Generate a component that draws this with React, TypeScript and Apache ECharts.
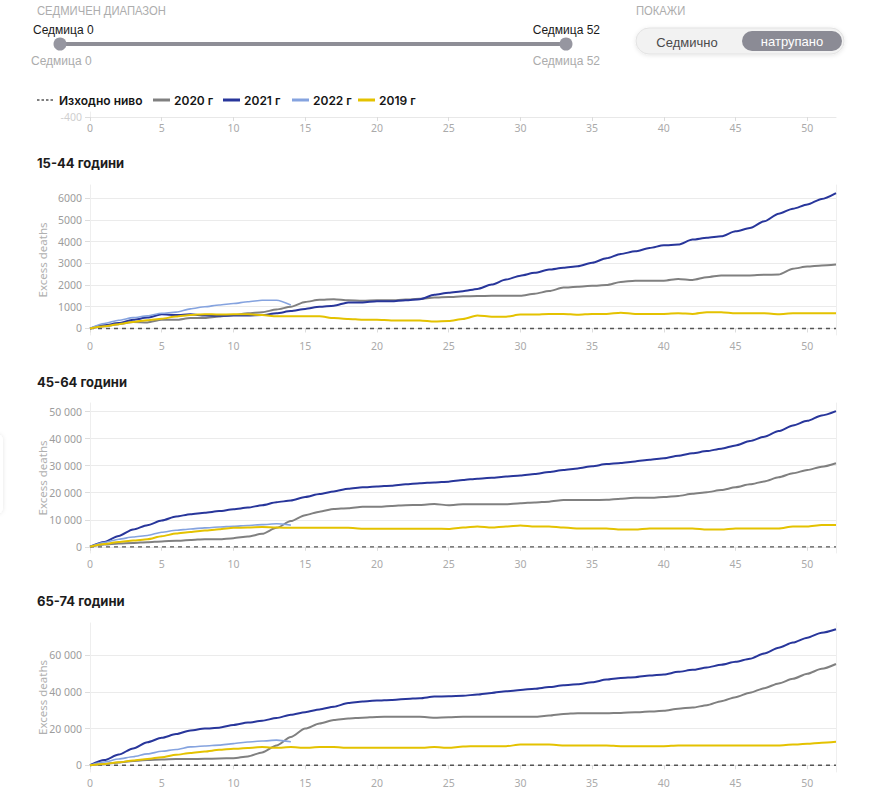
import React, { useEffect, useRef } from "react";
import * as echarts from "echarts";

// Week index along the x axis (0–52) and the weeks that carry a label
const WEEKS = [
  0, 1, 2, 3, 4, 5, 6, 7, 8, 9, 10, 11, 12, 13, 14, 15, 16, 17, 18, 19, 20, 21, 22, 23, 24, 25, 26,
  27, 28, 29, 30, 31, 32, 33, 34, 35, 36, 37, 38, 39, 40, 41, 42, 43, 44, 45, 46, 47, 48, 49, 50, 51, 52,
];
const WEEK_TICKS = [0, 5, 10, 15, 20, 25, 30, 35, 40, 45, 50];

const LEGEND_NAMES = ["Изходно ниво", "2020 г", "2021 г", "2022 г", "2019 г"];
const GROUP_TITLES = ["15-44 години", "45-64 години", "65-74 години"];
const Y_NAME = "Excess deaths";

// Cumulative excess deaths, 15-44
const Y2020_15_44 = [
  0, 100, 200, 300, 280, 400, 400, 480, 480, 550, 620, 700, 750, 870, 1000, 1220, 1320, 1350, 1300, 1280,
  1300, 1300, 1330, 1370, 1420, 1450, 1480, 1490, 1500, 1500, 1500, 1600, 1720, 1880, 1920, 1960, 2000,
  2140, 2200, 2200, 2200, 2280, 2230, 2360, 2440, 2440, 2440, 2470, 2480, 2750, 2850, 2900, 2940,
];
const Y2021_15_44 = [
  0, 150, 250, 400, 500, 650, 620, 650, 600, 580, 600, 600, 620, 700, 800, 900, 1000, 1050, 1200, 1200,
  1250, 1250, 1300, 1350, 1550, 1640, 1715, 1820, 2020, 2250, 2430, 2560, 2710, 2790, 2860, 3020, 3230,
  3430, 3550, 3700, 3830, 3860, 4090, 4170, 4240, 4470, 4620, 4930, 5280, 5510, 5700, 5960, 6230,
];
const Y2022_15_44 = [0, 230, 380, 500, 580, 700, 750, 900, 1000, 1080, 1150, 1230, 1300, 1300, 1080];
const Y2019_15_44 = [
  0, 100, 200, 300, 380, 450, 550, 620, 660, 640, 650, 650, 620, 560, 560, 560, 560, 480, 440, 400, 400,
  370, 370, 370, 320, 340, 440, 600, 540, 540, 640, 640, 670, 670, 630, 670, 670, 720, 670, 670, 670, 700,
  670, 750, 750, 700, 700, 700, 660, 700, 700, 700, 700,
];

// Cumulative excess deaths, 45-64
const Y2020_45_64 = [
  0, 800, 1200, 1400, 1700, 2000, 2200, 2500, 2800, 2800, 3200, 3800, 4800, 7000, 9500, 11700, 13000,
  14000, 14300, 14800, 14800, 15100, 15400, 15500, 15800, 15400, 15700, 15700, 15700, 15700, 16100,
  16400, 16700, 17300, 17300, 17300, 17400, 17800, 18100, 18100, 18400, 18800, 19600, 20200, 21000,
  22000, 23100, 24200, 25700, 27200, 28400, 29600, 30900,
];
const Y2021_45_64 = [
  0, 1800, 4000, 6400, 8000, 9700, 11200, 12050, 12600, 13200, 13900, 14500, 15400, 16500, 17100, 18400,
  19500, 20500, 21500, 22000, 22300, 22600, 23100, 23500, 23800, 24100, 24700, 25200, 25500, 26000,
  26400, 26900, 27700, 28400, 29000, 29800, 30600, 31000, 31600, 32200, 32800, 33700, 34600, 35400,
  36300, 37500, 39100, 40700, 42800, 44900, 46600, 48600, 50200,
];
const Y2022_45_64 = [0, 1600, 2800, 3600, 4200, 5400, 6100, 6600, 7000, 7300, 7600, 7900, 8200, 8500, 8000];
const Y2019_45_64 = [
  0, 1000, 1800, 2300, 2800, 3900, 4900, 5500, 6000, 6500, 7000, 7100, 7300, 7100, 7000, 7000, 7000,
  7000, 7000, 6700, 6700, 6700, 6700, 6700, 6700, 6600, 7100, 7500, 7100, 7500, 7900, 7500, 7500, 7100,
  6800, 6800, 6800, 6400, 6400, 6800, 6800, 6800, 6800, 6400, 6400, 6800, 6800, 6800, 6800, 7500, 7500,
  8100, 8100,
];

// Cumulative excess deaths, 65-74
const Y2020_65_74 = [
  0, 600, 1500, 2300, 2800, 3100, 3400, 3400, 3500, 3700, 3800, 4800, 7000, 10800, 15400, 20000, 22800,
  24700, 25500, 26000, 26400, 26500, 26500, 26500, 26000, 26200, 26500, 26500, 26500, 26500, 26500,
  26500, 27100, 28000, 28400, 28400, 28400, 28600, 28900, 29300, 29800, 30900, 31500, 32800, 35000,
  37200, 39600, 42100, 44700, 47200, 50000, 52700, 55300,
];
const Y2021_65_74 = [
  0, 2800, 5800, 9200, 12600, 15000, 17000, 19000, 20000, 20500, 22000, 23300, 24300, 25800, 27600,
  29000, 30500, 32000, 34000, 34800, 35300, 35700, 36200, 36600, 37500, 37700, 38000, 38600, 39500,
  40400, 41100, 41800, 42700, 43700, 44200, 45300, 46800, 47700, 48100, 49000, 49600, 51000, 52100,
  53400, 54900, 56500, 58200, 61100, 64200, 67000, 69700, 72400, 74300,
];
const Y2022_65_74 = [0, 1800, 3400, 4600, 6200, 7600, 8600, 10000, 10500, 11000, 11800, 12700, 13200, 13700, 12800];
const Y2019_65_74 = [
  0, 700, 1600, 2600, 3400, 4400, 5700, 6700, 7500, 8400, 9000, 9400, 9900, 9500, 9900, 9500, 10000, 9900,
  9500, 9500, 9500, 9500, 9500, 9500, 9900, 9500, 10200, 10400, 10400, 10400, 11300, 11300, 11300, 10800,
  10800, 10800, 10800, 10400, 10400, 10400, 10400, 10800, 10800, 10800, 10800, 10800, 10800, 10800,
  10800, 11300, 11700, 12300, 12800,
];

// y-axis ranges and labelled ticks for each panel
const Y_RANGE_15_44 = [-300, 6600];
const Y_TICKS_15_44 = [0, 1000, 2000, 3000, 4000, 5000, 6000];
const Y_RANGE_45_64 = [-2300, 53200];
const Y_TICKS_45_64 = [0, 10000, 20000, 30000, 40000, 50000];
const Y_RANGE_65_74 = [-3700, 77700];
const Y_TICKS_65_74 = [0, 20000, 40000, 60000];
// the bottom of the panel scrolled up under the sticky header
const Y_RANGE_TOP = [-400, -250];
const Y_TICKS_TOP = [-400];

const COLOR_BASE = "#555555";
const COLOR_2020 = "#808080";
const COLOR_2021 = "#28369b";
const COLOR_2022 = "#85a3df";
const COLOR_2019 = "#e4c200";

const UI_FONT = "'Liberation Sans', Arial, sans-serif";
const CHART_FONT = "Inter, 'Noto Sans', sans-serif";
const AXIS_FONT = "'Noto Sans', Inter, sans-serif";

const fmt = (v: number) =>
  Math.abs(v) >= 10000 ? String(v).replace(/\B(?=(\d{3})+(?!\d))/g, " ") : String(v);

const pairs = (vals: number[]) => vals.map((v, i) => [WEEKS[i], v]);

export default function App() {
  const ref = useRef<HTMLDivElement>(null);

  useEffect(() => {
    if (!ref.current) return;
    const chart = echarts.init(ref.current, undefined, { renderer: "svg" });

    const grids = [
      { left: 90, right: 51, top: 112, height: 5 },
      { left: 90, right: 51, top: 185, height: 150 },
      { left: 90, right: 51, top: 403, height: 150 },
      { left: 90, right: 51, top: 623, height: 149 },
    ];
    const ranges = [Y_RANGE_TOP, Y_RANGE_15_44, Y_RANGE_45_64, Y_RANGE_65_74];
    const ticks = [Y_TICKS_TOP, Y_TICKS_15_44, Y_TICKS_45_64, Y_TICKS_65_74];
    const panels = [
      [Y2020_15_44, Y2021_15_44, Y2022_15_44, Y2019_15_44],
      [Y2020_45_64, Y2021_45_64, Y2022_45_64, Y2019_45_64],
      [Y2020_65_74, Y2021_65_74, Y2022_65_74, Y2019_65_74],
    ];
    const yearColors = [COLOR_2020, COLOR_2021, COLOR_2022, COLOR_2019];
    const yearWidths = [2, 2, 1.6, 2];

    const xAxis = grids.map((_, i) => ({
      type: "value",
      gridIndex: i,
      min: 0,
      max: 52,
      axisLine: { show: true, lineStyle: { color: "#e8e8e8", width: 1 } },
      axisTick: { show: true, length: 4, customValues: WEEK_TICKS, lineStyle: { color: "#dcdcdc" } },
      axisLabel: {
        customValues: WEEK_TICKS,
        color: "#aaaaaa",
        fontSize: 10.5,
        fontFamily: AXIS_FONT,
        margin: 5,
      },
      splitLine: { show: false },
    }));

    const yAxis: any[] = [];
    grids.forEach((_, i) => {
      yAxis.push({
        type: "value",
        gridIndex: i,
        min: ranges[i][0],
        max: ranges[i][1],
        position: "left",
        axisLine: { show: true, lineStyle: { color: "#eeeeee" } },
        axisTick: { show: true, length: 5, customValues: ticks[i], lineStyle: { color: "#dddddd" } },
        axisLabel: {
          customValues: ticks[i],
          formatter: fmt,
          color: i === 0 ? "#cfcfcf" : "#9c9c9c",
          fontSize: 10.5,
          fontFamily: AXIS_FONT,
          margin: 8,
        },
        splitLine: { show: i !== 0, lineStyle: { color: "#ebebeb", width: 1 } },
      });
      if (i > 0) {
        yAxis.push({
          type: "value",
          gridIndex: i,
          min: ranges[i][0],
          max: ranges[i][1],
          position: "right",
          axisLine: { show: true, lineStyle: { color: "#efefef" } },
          axisTick: { show: false },
          axisLabel: { show: false },
          splitLine: { show: false },
        });
      }
    });

    // left y axis index of each grid: 0 for the header strip, then 1,3,5
    const leftAxisIndex = [0, 1, 3, 5];

    const series: any[] = [];
    panels.forEach((vals, p) => {
      const g = p + 1;
      series.push({
        type: "line",
        name: LEGEND_NAMES[0],
        xAxisIndex: g,
        yAxisIndex: leftAxisIndex[g],
        data: WEEKS.map((w) => [w, 0]),
        symbol: "none",
        lineStyle: { color: COLOR_BASE, width: 1.3, type: [4, 4] },
        itemStyle: { color: COLOR_BASE },
        z: 2,
      });
      vals.forEach((v, k) => {
        series.push({
          type: "line",
          name: LEGEND_NAMES[k + 1],
          xAxisIndex: g,
          yAxisIndex: leftAxisIndex[g],
          data: pairs(v),
          symbol: "none",
          smooth: 0.25,
          smoothMonotone: "x",
          lineStyle: { color: yearColors[k], width: yearWidths[k] },
          itemStyle: { color: yearColors[k] },
          z: 3,
        });
      });
    });

    const titleY = [163, 382, 601];

    const headerText = (text: string, x: number) => ({
      type: "text",
      x,
      y: 11,
      scaleX: 0.9,
      style: {
        text,
        fill: "#adadad",
        fontSize: 12.5,
        fontFamily: UI_FONT,
        verticalAlign: "middle",
      },
    });

    const graphic: any[] = [
      // week range slider
      headerText("СЕДМИЧЕН ДИАПАЗОН", 37),
      {
        type: "text",
        x: 33,
        y: 30,
        style: { text: "Седмица 0", fill: "#1a1a1a", fontSize: 12, fontFamily: UI_FONT, verticalAlign: "middle" },
      },
      {
        type: "text",
        x: 600,
        y: 30,
        style: {
          text: "Седмица 52",
          fill: "#1a1a1a",
          fontSize: 12,
          fontFamily: UI_FONT,
          align: "right",
          verticalAlign: "middle",
        },
      },
      {
        type: "line",
        shape: { x1: 60, y1: 44, x2: 566, y2: 44 },
        style: { stroke: "#8e8e96", lineWidth: 4, lineCap: "round" },
      },
      { type: "circle", shape: { cx: 60, cy: 44, r: 6.5 }, style: { fill: "#9696a0" } },
      { type: "circle", shape: { cx: 566, cy: 44, r: 6.5 }, style: { fill: "#9696a0" } },
      {
        type: "text",
        x: 31,
        y: 61,
        style: { text: "Седмица 0", fill: "#acacac", fontSize: 12, fontFamily: UI_FONT, verticalAlign: "middle" },
      },
      {
        type: "text",
        x: 600,
        y: 61,
        style: {
          text: "Седмица 52",
          fill: "#acacac",
          fontSize: 12,
          fontFamily: UI_FONT,
          align: "right",
          verticalAlign: "middle",
        },
      },
      // weekly / cumulative toggle
      headerText("ПОКАЖИ", 636),
      {
        type: "rect",
        shape: { x: 636, y: 28, width: 208, height: 26, r: 13 },
        style: {
          fill: "#f2f2f2",
          stroke: "#e3e3e3",
          lineWidth: 1,
          shadowBlur: 4,
          shadowColor: "rgba(0,0,0,0.10)",
          shadowOffsetY: 1,
        },
      },
      {
        type: "rect",
        shape: { x: 742, y: 31, width: 100, height: 20, r: 10 },
        style: { fill: "#8b8b95" },
      },
      {
        type: "text",
        x: 687,
        y: 42,
        style: {
          text: "Седмично",
          fill: "#4a4a4a",
          fontSize: 13,
          fontFamily: UI_FONT,
          align: "center",
          verticalAlign: "middle",
        },
      },
      {
        type: "text",
        x: 792,
        y: 41,
        style: {
          text: "натрупано",
          fill: "#ffffff",
          fontSize: 13,
          fontFamily: UI_FONT,
          align: "center",
          verticalAlign: "middle",
        },
      },
      // edge of a side tab peeking in at the left
      {
        type: "rect",
        shape: { x: -20, y: 434, width: 23, height: 80, r: 6 },
        style: { fill: "#ffffff", shadowBlur: 4, shadowColor: "rgba(0,0,0,0.10)" },
      },
    ];

    // legend row: key line followed by its label
    const legendItems = [
      { x1: 37, x2: 55, tx: 59, color: COLOR_BASE, width: 1.3, dash: [2.5, 2] },
      { x1: 153, x2: 170, tx: 174, color: COLOR_2020, width: 3, dash: null },
      { x1: 223, x2: 240, tx: 244, color: COLOR_2021, width: 3, dash: null },
      { x1: 292, x2: 309, tx: 313, color: COLOR_2022, width: 3, dash: null },
      { x1: 358, x2: 375, tx: 379, color: COLOR_2019, width: 3, dash: null },
    ];
    legendItems.forEach((it, i) => {
      graphic.push({
        type: "line",
        shape: { x1: it.x1, y1: 100, x2: it.x2, y2: 100 },
        style: { stroke: it.color, lineWidth: it.width, lineDash: it.dash || undefined },
      });
      graphic.push({
        type: "text",
        x: it.tx,
        y: 100,
        style: {
          text: LEGEND_NAMES[i],
          fill: "#151515",
          fontSize: 12,
          fontWeight: 600,
          fontFamily: CHART_FONT,
          verticalAlign: "middle",
        },
      });
    });

    GROUP_TITLES.forEach((t, i) => {
      const g = grids[i + 1];
      graphic.push({
        type: "text",
        x: 37,
        y: titleY[i],
        style: {
          text: t,
          fill: "#1c1c1c",
          fontSize: 13,
          fontWeight: 700,
          fontFamily: CHART_FONT,
          verticalAlign: "middle",
        },
      });
      // vertical axis title, centred on the panel
      graphic.push({
        type: "text",
        x: 42,
        y: g.top + g.height / 2,
        rotation: Math.PI / 2,
        style: {
          text: Y_NAME,
          fill: "#b0b0b0",
          fontSize: 11.5,
          fontFamily: AXIS_FONT,
          align: "center",
          verticalAlign: "middle",
        },
      });
    });

    chart.setOption({
      animation: false,
      backgroundColor: "#ffffff",
      grid: grids,
      xAxis,
      yAxis,
      series,
      graphic,
    });

    return () => chart.dispose();
  }, []);

  return (
    <div
      ref={ref}
      style={{ position: "fixed", left: 0, top: 0, width: 887, height: 800, background: "#fff" }}
    />
  );
}
